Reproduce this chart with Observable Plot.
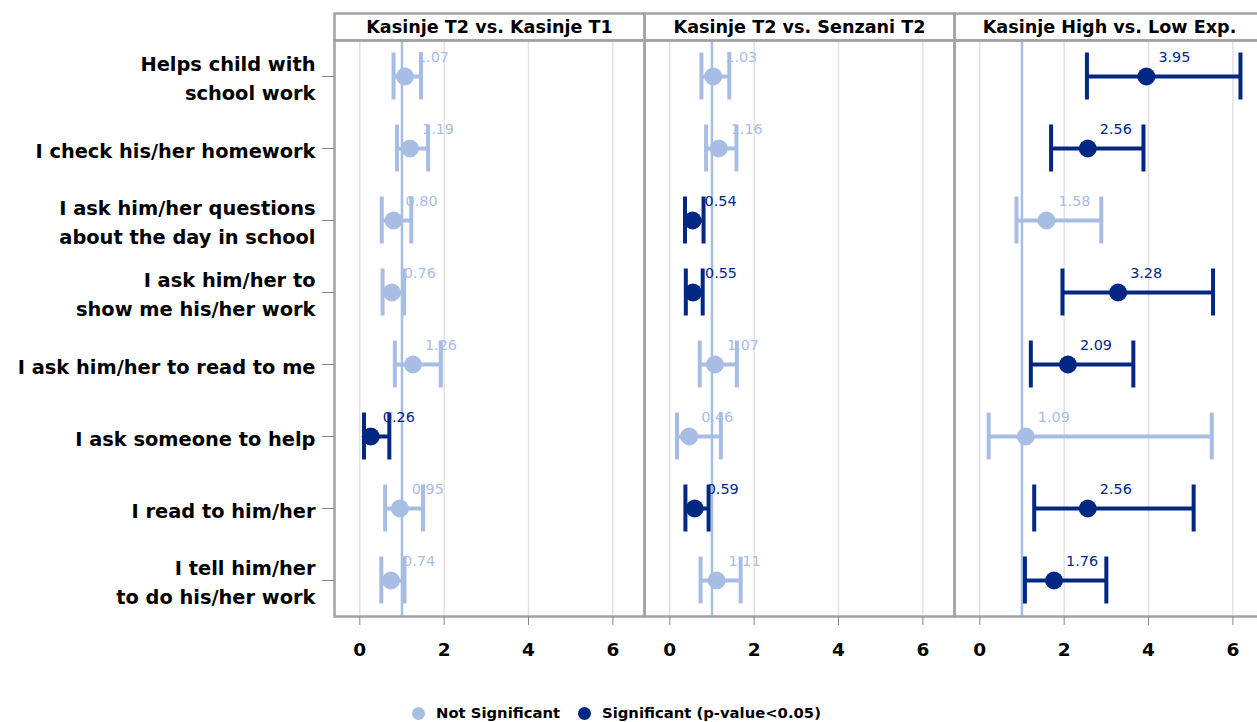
<!DOCTYPE html>
<html>
<head>
<meta charset="utf-8">
<script src="https://cdn.jsdelivr.net/npm/d3@7"></script>
<script src="https://cdn.jsdelivr.net/npm/@observablehq/plot@0.6"></script>
<style>
  html, body { margin: 0; padding: 0; background: #fff; overflow: hidden; }
  #wrap { position: relative; width: 1265px; height: 722px; }
  #legend { position: absolute; left: 412px; top: 703px; display: flex; align-items: center;
            font-family: "DejaVu Sans", sans-serif; font-weight: bold; font-size: 14.8px; color: #000; line-height: 20px; }
  #legend .dot { display: inline-block; width: 13px; height: 13px; border-radius: 50%; margin-right: 11px; }
  #legend .item { display: flex; align-items: center; margin-right: 18px; }
</style>
</head>
<body>
<div id="wrap"><div id="chart"></div><div id="legend"></div></div>
<script>
// ---- data ----
const items = [
  "Helps child with\nschool work",
  "I check his/her homework",
  "I ask him/her questions\nabout the day in school",
  "I ask him/her to\nshow me his/her work",
  "I ask him/her to read to me",
  "I ask someone to help",
  "I read to him/her",
  "I tell him/her\nto do his/her work"
];
const panels = ["Kasinje T2 vs. Kasinje T1", "Kasinje T2 vs. Senzani T2", "Kasinje High vs. Low Exp."];

// Panel 1: Kasinje T2 vs. Kasinje T1
const est1 = [1.07, 1.19, 0.80, 0.76, 1.26, 0.26, 0.95, 0.74];
const lo1  = [0.80, 0.88, 0.52, 0.54, 0.83, 0.10, 0.60, 0.51];
const hi1  = [1.45, 1.62, 1.22, 1.05, 1.92, 0.70, 1.50, 1.06];
const sig1 = [0, 0, 0, 0, 0, 1, 0, 0];
// Panel 2: Kasinje T2 vs. Senzani T2
const est2 = [1.03, 1.16, 0.54, 0.55, 1.07, 0.46, 0.59, 1.11];
const lo2  = [0.75, 0.86, 0.36, 0.38, 0.71, 0.17, 0.37, 0.73];
const hi2  = [1.41, 1.58, 0.80, 0.78, 1.59, 1.21, 0.92, 1.68];
const sig2 = [0, 0, 1, 1, 0, 0, 1, 0];
// Panel 3: Kasinje High vs. Low Exp.
const est3 = [3.95, 2.56, 1.58, 3.28, 2.09, 1.09, 2.56, 1.76];
const lo3  = [2.54, 1.69, 0.87, 1.96, 1.21, 0.21, 1.29, 1.07];
const hi3  = [6.18, 3.88, 2.88, 5.53, 3.64, 5.50, 5.07, 3.00];
const sig3 = [1, 1, 0, 1, 1, 0, 1, 1];

const xTicks = [0, 2, 4, 6];
const refValue = 1;
const groups = ["Not Significant", "Significant (p-value<0.05)"];
const groupColors = ["#a7bde4", "#002882"];

// ---- build table ----
const est = [est1, est2, est3], lo = [lo1, lo2, lo3], hi = [hi1, hi2, hi3], sig = [sig1, sig2, sig3];
const rows = panels.flatMap((p, j) => items.map((it, i) => ({
  panel: p, item: it, est: est[j][i], lo: lo[j][i], hi: hi[j][i], group: groups[sig[j][i]]
})));

const W = 1265, H = 680, mTop = 40, mBottom = 64, mLeft = 333, mRight = 0;
const innerH = H - mTop - mBottom;
const headerH = 27;
const frameGray = "#a3a3a3";
const font = "'DejaVu Sans', sans-serif";

const chart = Plot.plot({
  width: W, height: H,
  marginTop: mTop, marginBottom: mBottom, marginLeft: mLeft, marginRight: mRight,
  style: { fontFamily: font, background: "#fff", color: "#000" },
  fx: { domain: panels, padding: 0, axis: null },
  x: { domain: [-0.6, 6.75] },
  y: { domain: items, padding: 0 },
  color: { domain: groups, range: groupColors },
  marks: [
    Plot.gridX(xTicks, { stroke: "#e2e2e2", strokeOpacity: 1, strokeWidth: 1.5 }),
    Plot.ruleX([refValue], { stroke: groupColors[0], strokeWidth: 2.5 }),
    Plot.text(rows, { fx: "panel", x: "est", y: "item", text: d => d.est.toFixed(2),
      fill: "group", dx: 28, dy: -19, fontSize: 14.4 }),
    Plot.ruleY(rows, { fx: "panel", y: "item", x1: "lo", x2: "hi", stroke: "group", strokeWidth: 4 }),
    Plot.tickX(rows, { fx: "panel", y: "item", x: "lo", stroke: "group", strokeWidth: 4, insetTop: 12.5, insetBottom: 12.5 }),
    Plot.tickX(rows, { fx: "panel", y: "item", x: "hi", stroke: "group", strokeWidth: 4, insetTop: 12.5, insetBottom: 12.5 }),
    Plot.dot(rows, { fx: "panel", x: "est", y: "item", r: 9, fill: "group" }),
    Plot.frame({ stroke: frameGray, strokeWidth: 2.5 }),
    Plot.frame({ stroke: frameGray, strokeWidth: 2.5, insetBottom: innerH - headerH, dy: -headerH }),
    Plot.text(panels, { fx: d => d, text: d => d, frameAnchor: "top", dy: -headerH / 2,
      lineAnchor: "middle", fontSize: 17.6, fontWeight: "bold", fill: "#000" }),
    Plot.axisY({ tickSize: 12, tickPadding: 7, fontSize: 19.4, fontWeight: "bold", lineHeight: 1.45,
      stroke: "#888", fill: "#000", label: null }),
    Plot.axisX(xTicks, { tickSize: 9, tickPadding: 17, fontSize: 18.5, fontWeight: "bold",
      stroke: "#888", fill: "#000", label: null })
  ]
});
document.getElementById("chart").appendChild(chart);

// ---- legend ----
const legend = document.getElementById("legend");
groups.forEach((g, i) => {
  const it = document.createElement("span");
  it.className = "item";
  const dot = document.createElement("span");
  dot.className = "dot";
  dot.style.background = groupColors[i];
  it.appendChild(dot);
  it.appendChild(document.createTextNode(g));
  legend.appendChild(it);
});
</script>
</body>
</html>
